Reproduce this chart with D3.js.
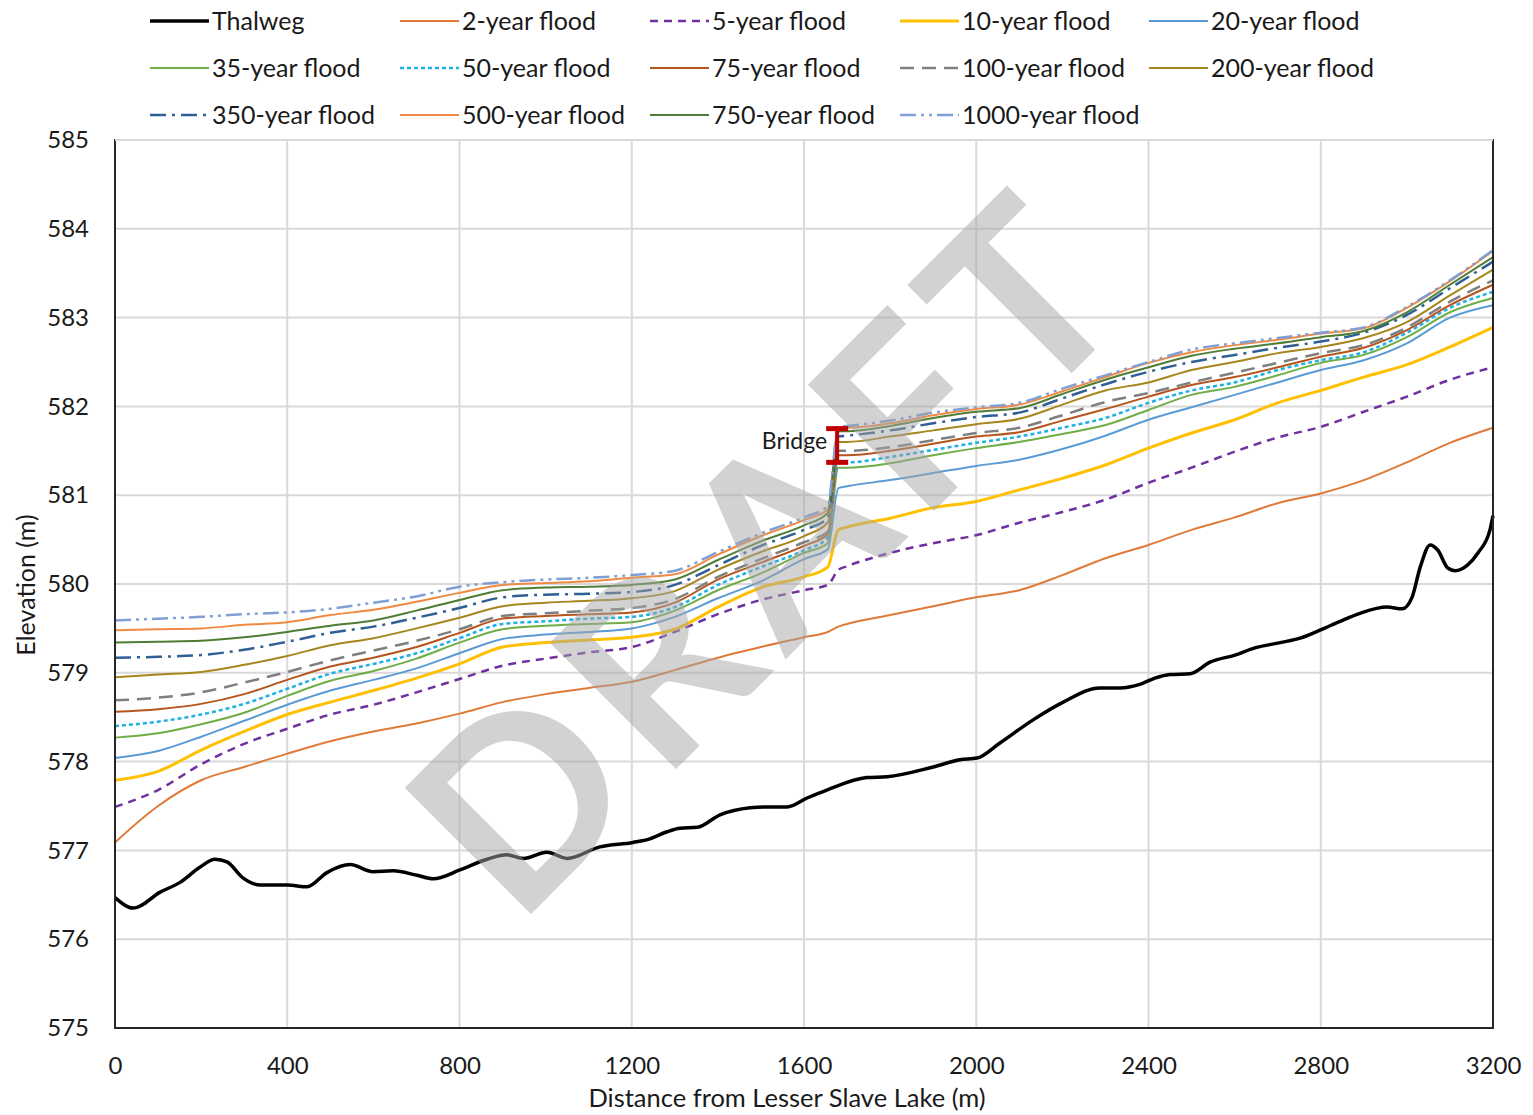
<!DOCTYPE html>
<html>
<head>
<meta charset="utf-8">
<script src="https://cdn.jsdelivr.net/npm/d3@7"></script>
<style>
  body { margin: 0; background: #fff; }
  svg { display: block; }
  text { font-family: Lato, "Liberation Sans", sans-serif; fill: #1a1a1a; }
</style>
</head>
<body>
<svg id="chart" width="1533" height="1115"></svg>
<script>
// ---- axis ticks ----
const xTicks = [0, 400, 800, 1200, 1600, 2000, 2400, 2800, 3200];
const yTicks = [575, 576, 577, 578, 579, 580, 581, 582, 583, 584, 585];

// ---- channel bed profile (distance m, elevation m) ----
const thalwegDist = [0, 42, 105, 151, 197, 232, 260, 297, 337, 400, 446, 492, 546, 599, 646, 701, 739, 801, 864, 910, 948, 1003, 1050, 1126, 1203, 1242, 1282, 1312, 1352, 1405, 1475, 1514, 1561, 1607, 1653, 1746, 1793, 1900, 1962, 2002, 2055, 2132, 2202, 2287, 2334, 2380, 2415, 2450, 2497, 2543, 2601, 2647, 2706, 2752, 2798, 2845, 2891, 2954, 2989, 3012, 3031, 3054, 3072, 3095, 3112, 3140, 3165, 3193, 3200];
const thalwegElev = [576.47, 576.35, 576.53, 576.64, 576.81, 576.90, 576.87, 576.69, 576.61, 576.61, 576.59, 576.75, 576.84, 576.76, 576.77, 576.72, 576.68, 576.78, 576.90, 576.95, 576.91, 576.98, 576.91, 577.04, 577.09, 577.13, 577.21, 577.25, 577.26, 577.40, 577.48, 577.49, 577.49, 577.59, 577.68, 577.82, 577.83, 577.94, 578.02, 578.04, 578.21, 578.47, 578.67, 578.83, 578.83, 578.87, 578.94, 578.98, 578.99, 579.12, 579.20, 579.28, 579.34, 579.39, 579.48, 579.58, 579.67, 579.74, 579.72, 579.85, 580.19, 580.44, 580.38, 580.18, 580.15, 580.21, 580.35, 580.61, 580.77];

// ---- water surface profiles, shared stations (m) ----
const floodDist = [0, 100, 200, 300, 400, 500, 600, 700, 800, 900, 1000, 1100, 1200, 1300, 1400, 1500, 1600, 1655, 1680, 1700, 1800, 1900, 2000, 2100, 2200, 2300, 2400, 2500, 2600, 2700, 2800, 2900, 3000, 3100, 3200];

const flood2 = [577.09, 577.50, 577.79, 577.94, 578.09, 578.23, 578.34, 578.43, 578.54, 578.67, 578.76, 578.83, 578.90, 579.03, 579.17, 579.29, 579.40, 579.46, 579.52, 579.55, 579.65, 579.75, 579.85, 579.93, 580.10, 580.29, 580.44, 580.61, 580.75, 580.91, 581.02, 581.17, 581.37, 581.59, 581.76];
const flood5 = [577.49, 577.68, 577.97, 578.20, 578.37, 578.53, 578.64, 578.78, 578.93, 579.08, 579.16, 579.23, 579.29, 579.46, 579.66, 579.82, 579.93, 579.99, 580.16, 580.20, 580.35, 580.46, 580.55, 580.69, 580.81, 580.95, 581.14, 581.31, 581.49, 581.65, 581.77, 581.94, 582.11, 582.30, 582.44];
const flood10 = [577.79, 577.89, 578.13, 578.34, 578.53, 578.67, 578.80, 578.94, 579.10, 579.29, 579.34, 579.37, 579.40, 579.49, 579.74, 579.96, 580.08, 580.19, 580.61, 580.64, 580.74, 580.86, 580.93, 581.06, 581.19, 581.34, 581.53, 581.70, 581.85, 582.04, 582.18, 582.33, 582.47, 582.67, 582.89];
const flood20 = [578.04, 578.12, 578.28, 578.46, 578.64, 578.80, 578.92, 579.05, 579.22, 579.38, 579.43, 579.46, 579.50, 579.63, 579.84, 580.03, 580.28, 580.39, 581.08, 581.10, 581.17, 581.25, 581.33, 581.40, 581.52, 581.67, 581.85, 581.99, 582.13, 582.27, 582.41, 582.52, 582.71, 583.00, 583.14];
const flood35 = [578.27, 578.32, 578.42, 578.55, 578.74, 578.91, 579.02, 579.16, 579.34, 579.49, 579.53, 579.55, 579.57, 579.70, 579.93, 580.12, 580.35, 580.46, 581.31, 581.31, 581.36, 581.45, 581.53, 581.60, 581.69, 581.79, 581.96, 582.13, 582.22, 582.35, 582.49, 582.58, 582.78, 583.06, 583.22];
const flood50 = [578.40, 578.45, 578.53, 578.65, 578.82, 578.99, 579.10, 579.22, 579.39, 579.55, 579.58, 579.61, 579.63, 579.74, 579.99, 580.19, 580.38, 580.52, 581.37, 581.37, 581.43, 581.51, 581.59, 581.66, 581.76, 581.87, 582.04, 582.18, 582.27, 582.41, 582.52, 582.61, 582.83, 583.11, 583.29];
const flood75 = [578.56, 578.59, 578.65, 578.76, 578.92, 579.07, 579.17, 579.29, 579.45, 579.61, 579.64, 579.66, 579.68, 579.79, 580.05, 580.24, 580.43, 580.56, 581.45, 581.45, 581.50, 581.58, 581.66, 581.71, 581.84, 581.97, 582.11, 582.24, 582.33, 582.44, 582.56, 582.66, 582.86, 583.14, 583.37];
const flood100 = [578.69, 578.72, 578.78, 578.89, 579.01, 579.14, 579.25, 579.36, 579.49, 579.64, 579.67, 579.70, 579.73, 579.83, 580.08, 580.28, 580.47, 580.59, 581.50, 581.50, 581.54, 581.62, 581.70, 581.76, 581.90, 582.05, 582.15, 582.27, 582.38, 582.49, 582.60, 582.69, 582.89, 583.18, 583.42];
const flood200 = [578.95, 578.98, 579.01, 579.09, 579.19, 579.31, 579.39, 579.50, 579.62, 579.75, 579.79, 579.81, 579.84, 579.92, 580.16, 580.36, 580.54, 580.69, 581.60, 581.60, 581.66, 581.73, 581.80, 581.86, 582.02, 582.18, 582.27, 582.41, 582.50, 582.60, 582.67, 582.77, 582.95, 583.25, 583.54];
const flood350 = [579.17, 579.18, 579.20, 579.26, 579.35, 579.45, 579.52, 579.62, 579.73, 579.85, 579.88, 579.89, 579.91, 579.99, 580.21, 580.43, 580.61, 580.74, 581.66, 581.67, 581.73, 581.81, 581.88, 581.93, 582.09, 582.25, 582.39, 582.50, 582.58, 582.66, 582.73, 582.83, 583.03, 583.33, 583.63];
const flood500 = [579.48, 579.49, 579.50, 579.54, 579.57, 579.65, 579.71, 579.80, 579.90, 579.99, 580.01, 580.03, 580.07, 580.11, 580.33, 580.54, 580.72, 580.84, 581.76, 581.76, 581.81, 581.90, 581.97, 582.02, 582.17, 582.33, 582.49, 582.61, 582.69, 582.75, 582.82, 582.88, 583.11, 583.41, 583.75];
const flood750 = [579.34, 579.35, 579.36, 579.40, 579.46, 579.53, 579.59, 579.70, 579.82, 579.93, 579.96, 579.97, 579.99, 580.05, 580.27, 580.48, 580.66, 580.80, 581.72, 581.72, 581.78, 581.87, 581.94, 581.98, 582.14, 582.30, 582.44, 582.57, 582.65, 582.71, 582.78, 582.85, 583.06, 583.37, 583.68];
const flood1000 = [579.59, 579.61, 579.63, 579.66, 579.68, 579.72, 579.79, 579.86, 579.97, 580.02, 580.05, 580.07, 580.10, 580.15, 580.36, 580.57, 580.75, 580.88, 581.77, 581.78, 581.84, 581.93, 581.99, 582.04, 582.20, 582.35, 582.50, 582.64, 582.71, 582.77, 582.83, 582.89, 583.12, 583.42, 583.76];

// ---- bridge (deck top / low chord) ----
const bridgeDist = 1677;
const bridgeTop = 581.75;
const bridgeLow = 581.37;

const legendLabels = ["Thalweg", "2-year flood", "5-year flood", "10-year flood", "20-year flood",
  "35-year flood", "50-year flood", "75-year flood", "100-year flood", "200-year flood",
  "350-year flood", "500-year flood", "750-year flood", "1000-year flood"];

// ---- layout ----
const svg = d3.select("#chart");
const x = d3.scaleLinear().domain([0, 3200]).range([115, 1493]);
const y = d3.scaleLinear().domain([575, 585]).range([1028, 140]);

// series definitions with line styles
const series = [
  { name: legendLabels[0], dist: thalwegDist, elev: thalwegElev, color: "#000000", width: 3.5, dash: null },
  { name: legendLabels[1], dist: floodDist, elev: flood2, color: "#E07A38", width: 2, dash: null },
  { name: legendLabels[2], dist: floodDist, elev: flood5, color: "#7030A0", width: 2.5, dash: "8,6" },
  { name: legendLabels[3], dist: floodDist, elev: flood10, color: "#FFC000", width: 3, dash: null },
  { name: legendLabels[4], dist: floodDist, elev: flood20, color: "#5B9BD5", width: 2, dash: null },
  { name: legendLabels[5], dist: floodDist, elev: flood35, color: "#70AD47", width: 2, dash: null },
  { name: legendLabels[6], dist: floodDist, elev: flood50, color: "#1FB0E8", width: 2.5, dash: "4,3" },
  { name: legendLabels[7], dist: floodDist, elev: flood75, color: "#B5541C", width: 2, dash: null },
  { name: legendLabels[8], dist: floodDist, elev: flood100, color: "#7F7F7F", width: 2.5, dash: "14,8" },
  { name: legendLabels[9], dist: floodDist, elev: flood200, color: "#A8861E", width: 2, dash: null },
  { name: legendLabels[10], dist: floodDist, elev: flood350, color: "#2F5F94", width: 2.5, dash: "16,6,3,6" },
  { name: legendLabels[11], dist: floodDist, elev: flood500, color: "#F08A42", width: 2, dash: null },
  { name: legendLabels[12], dist: floodDist, elev: flood750, color: "#4E7D33", width: 2, dash: null },
  { name: legendLabels[13], dist: floodDist, elev: flood1000, color: "#7F9FD5", width: 2.5, dash: "16,5,3,5,3,5" }
];

// ---- gridlines ----
const grid = svg.append("g");
grid.selectAll("line.v").data(xTicks.slice(1, -1)).join("line")
  .attr("x1", d => x(d)).attr("x2", d => x(d))
  .attr("y1", y(585)).attr("y2", y(575))
  .attr("stroke", "#D9D9D9").attr("stroke-width", 2);
grid.selectAll("line.h").data(yTicks.slice(1)).join("line")
  .attr("x1", x(0)).attr("x2", x(3200))
  .attr("y1", d => y(d)).attr("y2", d => y(d))
  .attr("stroke", "#D9D9D9").attr("stroke-width", 2);

// ---- lines ----
const plot = svg.append("g");
series.forEach(s => {
  const pts = s.dist.map((d, i) => [d, s.elev[i]]);
  const line = d3.line().x(d => x(d[0])).y(d => y(d[1])).curve(d3.curveMonotoneX);
  plot.append("path").datum(pts)
    .attr("d", line)
    .attr("fill", "none")
    .attr("stroke", s.color)
    .attr("stroke-width", s.width)
    .attr("stroke-dasharray", s.dash)
    .attr("stroke-linejoin", "round");
});

// ---- bridge marker ----
const bx = x(bridgeDist);
const bridge = svg.append("g");
bridge.append("line").attr("x1", bx).attr("x2", bx)
  .attr("y1", y(bridgeTop)).attr("y2", y(bridgeLow))
  .attr("stroke", "#C00000").attr("stroke-width", 4);
[bridgeTop, bridgeLow].forEach(v => {
  bridge.append("line").attr("x1", bx - 11).attr("x2", bx + 11)
    .attr("y1", y(v)).attr("y2", y(v))
    .attr("stroke", "#C00000").attr("stroke-width", 5);
});
bridge.append("text").attr("x", bx - 10).attr("y", (y(bridgeTop) + y(bridgeLow)) / 2 + 4)
  .attr("text-anchor", "end").attr("font-size", 23).text("Bridge");

// ---- axes ----
const xAxis = svg.append("g").attr("transform", `translate(0,${y(575)})`)
  .call(d3.axisBottom(x).tickValues(xTicks).tickSize(0).tickPadding(29).tickFormat(d3.format("d")));
const yAxis = svg.append("g").attr("transform", `translate(${x(0)},0)`)
  .call(d3.axisLeft(y).tickValues(yTicks).tickSize(0).tickPadding(26).tickFormat(d3.format("d")));
[xAxis, yAxis].forEach(a => {
  a.select(".domain").remove();
  a.selectAll("text").attr("font-size", 24).attr("font-family", "Lato, sans-serif").attr("fill", "#1a1a1a");
});

// plot frame: left, bottom, right in dark
const frame = svg.append("g").attr("stroke", "#262626").attr("stroke-width", 2);
frame.append("line").attr("x1", x(0)).attr("x2", x(0)).attr("y1", y(585) - 1).attr("y2", y(575) + 1);
frame.append("line").attr("x1", x(3200)).attr("x2", x(3200)).attr("y1", y(585) - 1).attr("y2", y(575) + 1);
frame.append("line").attr("x1", x(0)).attr("x2", x(3200)).attr("y1", y(575)).attr("y2", y(575));
svg.append("line").attr("x1", x(0)).attr("x2", x(3200)).attr("y1", y(585)).attr("y2", y(585))
  .attr("stroke", "#D9D9D9").attr("stroke-width", 2);

// axis titles
svg.append("text").attr("x", 787).attr("y", 1107)
  .attr("text-anchor", "middle").attr("font-size", 25.5).text("Distance from Lesser Slave Lake (m)");
svg.append("text").attr("transform", `translate(35,${(y(575) + y(585)) / 2 + 1}) rotate(-90)`)
  .attr("text-anchor", "middle").attr("font-size", 25).text("Elevation (m)");

// ---- legend ----
const colX = [150, 400, 650, 900, 1149];
const rowY = [21, 68, 115];
const legend = svg.append("g");
series.forEach((s, i) => {
  const cx = colX[i % 5], cy = rowY[Math.floor(i / 5)];
  legend.append("line").attr("x1", cx).attr("x2", cx + 59).attr("y1", cy).attr("y2", cy)
    .attr("stroke", s.color).attr("stroke-width", s.width)
    .attr("stroke-dasharray", s.dash);
  legend.append("text").attr("x", cx + 62).attr("y", cy + 9)
    .attr("font-size", 25).text(s.name);
});

// ---- watermark ----
svg.append("text")
  .attr("transform", "translate(517,928) rotate(-45)")
  .attr("font-family", "'Liberation Sans', Arial, sans-serif")
  .attr("font-weight", "bold")
  .attr("font-size", 247)
  .attr("textLength", 875)
  .attr("lengthAdjust", "spacing")
  .style("fill", "#A6A6A6")
  .attr("opacity", 0.5)
  .text("DRAFT");
</script>
</body>
</html>
